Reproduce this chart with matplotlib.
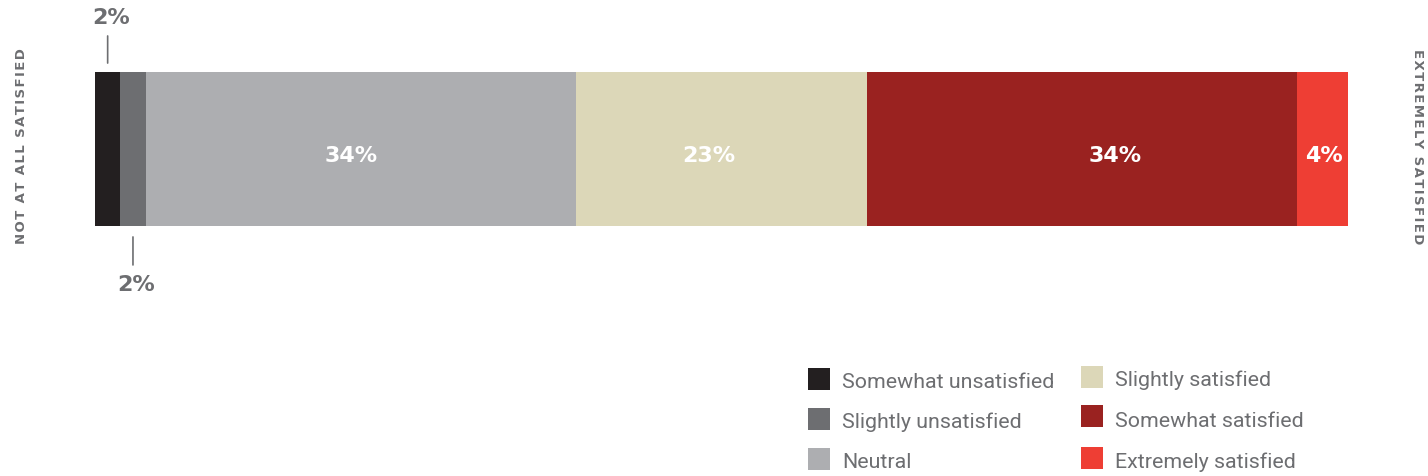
import matplotlib
matplotlib.use("Agg")
import matplotlib.pyplot as plt
from matplotlib.patches import Rectangle

categories = ["Somewhat unsatisfied", "Slightly unsatisfied", "Neutral",
              "Slightly satisfied", "Somewhat satisfied", "Extremely satisfied"]
values = [2, 2, 34, 23, 34, 4]
labels = ["2%", "2%", "34%", "23%", "34%", "4%"]
colors = ["#231f20", "#6d6e71", "#adaeb1", "#dcd7b8", "#9a2220", "#ee3e34"]
# horizontal nudge of the in-bar labels (in bar units), as placed in the original
label_nudge = [0, 0, -0.75, -1.03, 2.6, 0.08]

plt.rcParams['font.family'] = ['Roboto', 'DejaVu Sans']
W, H = 1428, 476
fig = plt.figure(figsize=(W / 100, H / 100), dpi=100)
ax = fig.add_axes([95 / W, 1 - 226 / H, (1348 - 95) / W, (226 - 72) / H])

total = sum(values)
left = 0
gray = "#6d6e71"
pfont = dict(family="DejaVu Sans", fontsize=16, fontweight="bold")
for i, (v, c, lab) in enumerate(zip(values, colors, labels)):
    ax.barh(0, v, left=left, height=1, color=c, linewidth=0)
    center = left + v / 2
    if i == 0:
        ax.annotate("", xy=(center, 0.558), xytext=(center, 0.734), xycoords="data",
                    arrowprops=dict(arrowstyle="-", color=gray, lw=1.2, shrinkA=0, shrinkB=0),
                    annotation_clip=False)
        ax.text(center + 0.25, 0.85, lab, ha="center", va="center", color=gray,
                clip_on=False, **pfont)
    elif i == 1:
        ax.annotate("", xy=(center, -0.571), xytext=(center, -0.753), xycoords="data",
                    arrowprops=dict(arrowstyle="-", color=gray, lw=1.2, shrinkA=0, shrinkB=0),
                    annotation_clip=False)
        ax.text(center + 0.25, -0.883, lab, ha="center", va="center", color=gray,
                clip_on=False, **pfont)
    else:
        ax.text(center + label_nudge[i], -0.045, lab, ha="center", va="center",
                color="white", **pfont)
    left += v

ax.set_xlim(0, total)
ax.set_ylim(-0.5, 0.5)
ax.axis("off")

def spaced(s):
    return "\u200a".join(s)

fig.text(22 / W, 1 - 146 / H, spaced("NOT AT ALL SATISFIED"), rotation=90, ha="center",
         va="center", color=gray, fontsize=9.5, fontweight="bold", family="DejaVu Sans")
fig.text(1418 / W, 1 - 147 / H, spaced("EXTREMELY SATISFIED"), rotation=-90, ha="center",
         va="center", color=gray, fontsize=9.5, fontweight="bold", family="DejaVu Sans")

# legend
pos = [(808, 379, 388), (808, 419, 428), (808, 459, 468),
       (1081, 377, 386), (1081, 416, 427), (1081, 458, 468)]
for (x, yc, yb), c, name in zip(pos, colors, categories):
    fig.patches.append(Rectangle((x / W, 1 - (yc + 11) / H), 22 / W, 22 / H,
                                 transform=fig.transFigure, color=c, linewidth=0))
    fig.text((x + 34) / W, 1 - yb / H, name, ha="left", va="baseline",
             color=gray, fontsize=15.4)

fig.savefig("out.png", dpi=100)
